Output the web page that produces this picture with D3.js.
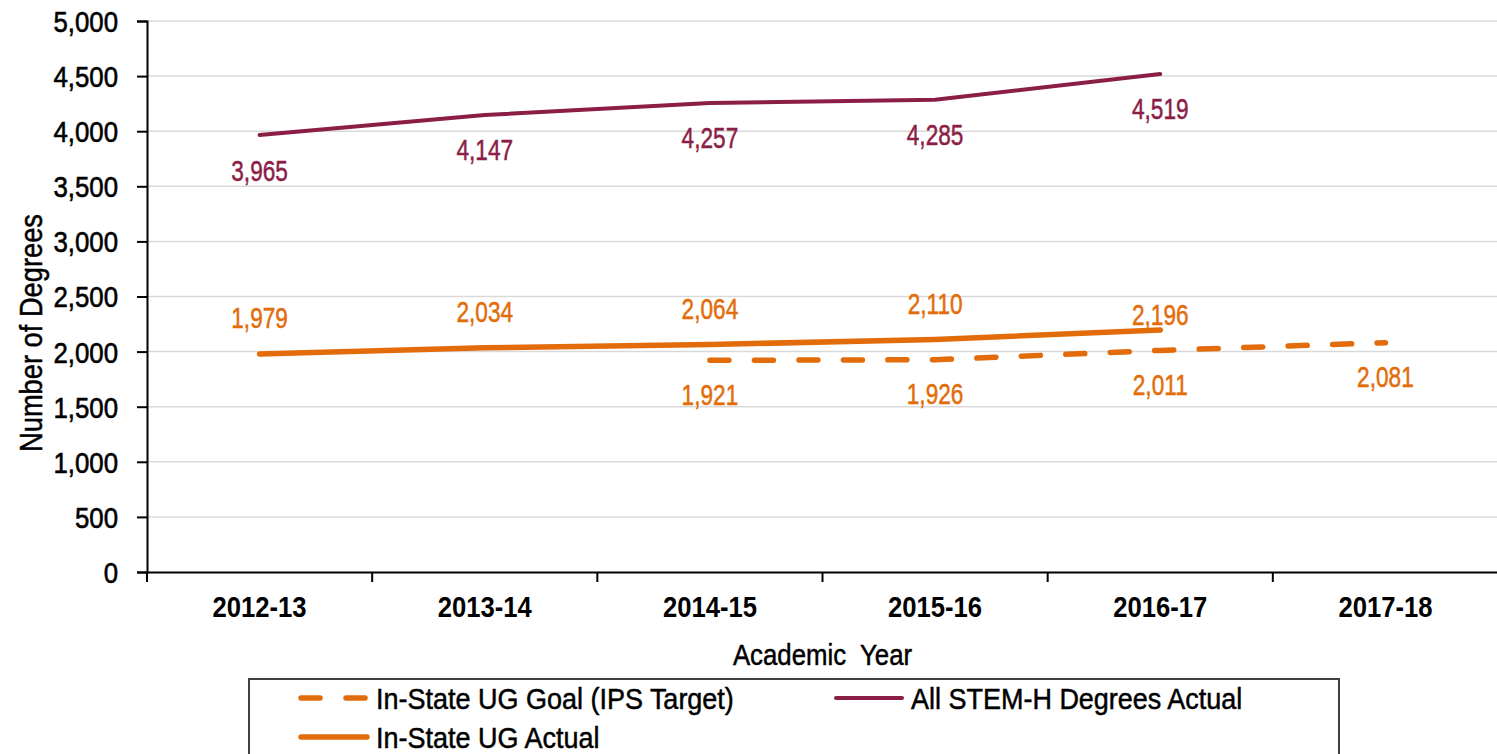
<!DOCTYPE html>
<html><head><meta charset="utf-8">
<script src="https://cdn.jsdelivr.net/npm/d3@7"></script>
<style>
html,body{margin:0;padding:0;background:#fff;overflow:hidden;}
text{font-family:"Liberation Sans","Arial",sans-serif;}
</style></head>
<body>
<svg id="chart" width="1497" height="754"></svg>
<script>
const categories = ["2012-13","2013-14","2014-15","2015-16","2016-17","2017-18"];
const stemActual = [3965, 4147, 4257, 4285, 4519, null];
const ugActual = [1979, 2034, 2064, 2110, 2196, null];
const ugGoal = [null, null, 1921, 1926, 2011, 2081];
const yTicks = [0,500,1000,1500,2000,2500,3000,3500,4000,4500,5000];
const seriesNames = ["In-State UG Goal (IPS Target)","All STEM-H Degrees Actual","In-State UG Actual"];

const ORANGE = "#E36C0A", MAROON = "#8B1E46";
const svg = d3.select("#chart");
const m = {left:147, right:1498, top:21, bottom:572};

const x = d3.scaleBand().domain(categories).range([m.left, m.right]).padding(0);
const y = d3.scaleLinear().domain([0,5000]).range([m.bottom, m.top]);
const cx = c => x(c) + x.bandwidth()/2;

// emulate a narrow face: move x/y into a transform and squeeze horizontally
function narrow(sel, sx, thicken){
  sel.each(function(){
    const t = d3.select(this);
    const tx = +t.attr("x") || 0, ty = +t.attr("y") || 0;
    const prev = t.attr("transform") || "";
    t.attr("x",0).attr("y",0)
     .attr("transform", `${prev} translate(${tx},${ty}) scale(${sx},1)`);
    if (thicken) t.attr("stroke", t.attr("fill")).attr("stroke-width", thicken);
  });
}

// gridlines
svg.append("g").selectAll("line").data(yTicks.filter(d=>d>0)).join("line")
  .attr("x1", m.left).attr("x2", m.right)
  .attr("y1", d=>y(d)).attr("y2", d=>y(d))
  .attr("stroke","#d9d9d9").attr("stroke-width",1.5);

// y axis
const yAxis = svg.append("g").attr("transform",`translate(${m.left},0)`)
  .call(d3.axisLeft(y).tickValues(yTicks).tickFormat(d3.format(",")).tickSize(10).tickPadding(19));
yAxis.select(".domain").attr("stroke","#000").attr("stroke-width",2);
yAxis.selectAll(".tick line").attr("stroke","#000").attr("stroke-width",2);
yAxis.selectAll("text").attr("font-size",29).attr("fill","#000").attr("dy","0.36em")
  .style("font-family",'"Liberation Sans",Arial,sans-serif');
narrow(yAxis.selectAll("text"), 0.89, 0.6);

// x axis
const xAxis = svg.append("g").attr("transform",`translate(0,${m.bottom})`)
  .call(d3.axisBottom(x).tickSize(0).tickPadding(24));
xAxis.select(".domain").attr("stroke","#000").attr("stroke-width",2);
xAxis.selectAll("text").attr("font-size",30).attr("font-weight","bold").attr("fill","#000")
  .style("font-family",'"Liberation Sans",Arial,sans-serif');
narrow(xAxis.selectAll("text"), 0.855);
// boundary ticks between categories
svg.append("g").selectAll("line").data(categories).join("line")
  .attr("x1", d=>x(d)).attr("x2", d=>x(d))
  .attr("y1", m.bottom).attr("y2", m.bottom+10)
  .attr("stroke","#000").attr("stroke-width",2);

// axis titles
const xt = svg.append("text").attr("x", (m.left+m.right)/2).attr("y", 665)
  .attr("text-anchor","middle").attr("font-size",30).attr("fill","#000")
  .style("white-space","pre").text("Academic  Year");
narrow(xt, 0.86, 0.5);
svg.append("text").attr("transform","translate(42,333) rotate(-90) scale(0.88,1)")
  .attr("text-anchor","middle").attr("font-size",31).attr("fill","#000")
  .attr("stroke","#000").attr("stroke-width",0.5)
  .text("Number of Degrees");

// lines
const line = d3.line().defined(d=>d.v!=null).x(d=>cx(d.c)).y(d=>y(d.v));
const mk = arr => categories.map((c,i)=>({c, v:arr[i]}));

svg.append("path").datum(mk(ugGoal)).attr("d", line)
  .attr("fill","none").attr("stroke",ORANGE).attr("stroke-width",5.5)
  .attr("stroke-dasharray","19,25.5").attr("stroke-linecap","round");
svg.append("path").datum(mk(ugActual)).attr("d", line)
  .attr("fill","none").attr("stroke",ORANGE).attr("stroke-width",5.5).attr("stroke-linecap","round");
svg.append("path").datum(mk(stemActual)).attr("d", line)
  .attr("fill","none").attr("stroke",MAROON).attr("stroke-width",4).attr("stroke-linecap","round");

// data labels
function labels(arr, color, dy, special){
  const g = svg.append("g");
  g.selectAll("text").data(mk(arr).filter(d=>d.v!=null)).join("text")
    .attr("x", d=>cx(d.c))
    .attr("y", d=>y(d.v) + ((special && special[d.c]!=null) ? special[d.c] : dy))
    .attr("text-anchor","middle").attr("dy","0.36em")
    .attr("font-size",29).attr("fill",color)
    .text(d=>d3.format(",")(d.v));
  narrow(g.selectAll("text"), 0.78, 0.5);
}
labels(stemActual, MAROON, 35);
labels(ugActual, ORANGE, -36, {"2016-17": -15});
labels(ugGoal, ORANGE, 34);

// legend
const lg = svg.append("g");
lg.append("rect").attr("x",249).attr("y",679).attr("width",1090).attr("height",90)
  .attr("fill","#fff").attr("stroke","#404040").attr("stroke-width",2);
const items = [
  {name:seriesNames[0], color:ORANGE, dash:"19,26", w:5.5, x:298, y:698},
  {name:seriesNames[1], color:MAROON, dash:null, w:4, x:833, y:698},
  {name:seriesNames[2], color:ORANGE, dash:null, w:5.5, x:298, y:737}
];
items.forEach(it=>{
  lg.append("line").attr("x1",it.x+3).attr("x2",it.x+69).attr("y1",it.y).attr("y2",it.y)
    .attr("stroke",it.color).attr("stroke-width",it.w).attr("stroke-linecap","round")
    .attr("stroke-dasharray",it.dash);
  const t = lg.append("text").attr("x",it.x+78).attr("y",it.y).attr("dy","0.36em")
    .attr("font-size",30).attr("fill","#000").text(it.name);
  narrow(t, 0.9, 0.5);
});
</script>
</body></html>
